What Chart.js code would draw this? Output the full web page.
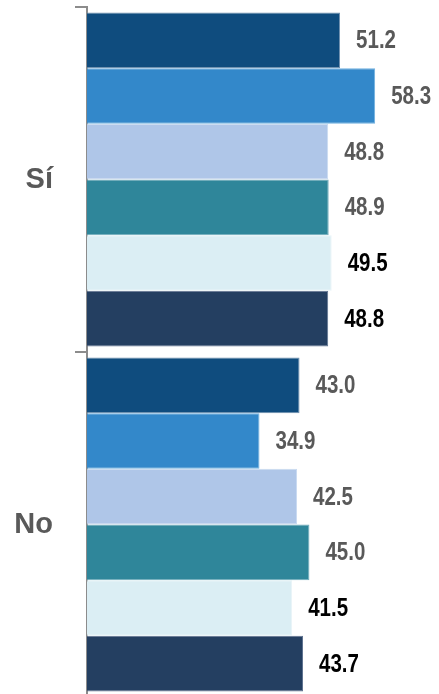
<!DOCTYPE html>
<html>
<head>
<meta charset="utf-8">
<script src="https://cdn.jsdelivr.net/npm/chart.js@4"></script>
<style>
    html, body { margin: 0; padding: 0; background: #fff; overflow: hidden; }
    #wrap { width: 439px; height: 697px; position: relative; }
</style>
</head>
<body>
<div id="wrap"><canvas id="myBarChart"></canvas></div>
<script>
// categorías y valores de cada serie
const categories = ['Sí', 'No'];
const serie1 = [51.2, 43.0];
const serie2 = [58.3, 34.9];
const serie3 = [48.8, 42.5];
const serie4 = [48.9, 45.0];
const serie5 = [49.5, 41.5];
const serie6 = [48.8, 43.7];

const seriesValues = [serie1, serie2, serie3, serie4, serie5, serie6];
const fillColors = ['#0F4C7E', '#3388CA', '#AFC6E8', '#2F869A', '#DBEEF4', '#243F61'];
const edgeColors = ['#6F8FAE', '#6FB0E0', '#C9DAF0', '#6FAABA', '#E8F4F8', '#5F7390'];
const labelColors = ['#595959', '#595959', '#595959', '#595959', '#000000', '#000000'];

// etiquetas de valor al final de cada barra (letra estrecha, comprimida a mano)
const valueLabels = {
    id: 'valueLabels',
    afterDatasetsDraw(chart) {
        const ctx = chart.ctx;
        const squeeze = 0.82;
        ctx.save();
        ctx.font = "bold 25px 'Liberation Sans Narrow', 'Arial Narrow', 'Liberation Sans', sans-serif";
        ctx.textAlign = 'left';
        ctx.textBaseline = 'middle';
        chart.data.datasets.forEach((ds, i) => {
            const meta = chart.getDatasetMeta(i);
            meta.data.forEach((bar, j) => {
                ctx.save();
                ctx.translate(bar.x + 16, bar.y + 1);
                ctx.scale(squeeze, 1);
                ctx.fillStyle = labelColors[i];
                ctx.fillText(ds.data[j].toFixed(1), 0, 0);
                ctx.restore();
            });
        });
        ctx.restore();
    }
};

document.addEventListener('DOMContentLoaded', () => {
    const ctx = document.getElementById('myBarChart').getContext('2d');

    const data = {
        labels: categories,
        datasets: seriesValues.map((vals, i) => ({
            label: 'Serie ' + (i + 1),
            data: vals,
            backgroundColor: fillColors[i],
            borderColor: edgeColors[i],
            borderWidth: 1,
            barPercentage: 1,
            categoryPercentage: 0.968
        }))
    };

    new Chart(ctx, {
        type: 'bar',
        data: data,
        plugins: [valueLabels],
        options: {
            indexAxis: 'y',
            responsive: true,
            maintainAspectRatio: false,
            animation: false,
            layout: { padding: { top: 7, bottom: 0, left: 0, right: 6 } },
            plugins: {
                legend: { display: false },
                tooltip: { enabled: false }
            },
            scales: {
                x: {
                    display: false,
                    min: 0,
                    max: 70
                },
                y: {
                    afterFit: (scale) => {
                        scale.width = 87;
                        scale.paddingTop = 0;
                        scale.paddingBottom = 0;
                    },
                    border: { display: true, color: '#8C8C8C', width: 2 },
                    grid: {
                        display: true,
                        drawOnChartArea: false,
                        offset: true,
                        tickLength: 12,
                        color: '#8C8C8C',
                        lineWidth: 2
                    },
                    ticks: {
                        color: '#595959',
                        padding: 22,
                        font: { family: "'Liberation Sans', Arial, sans-serif", size: 29, weight: 'bold' }
                    }
                }
            }
        }
    });
});
</script>
</body>
</html>
